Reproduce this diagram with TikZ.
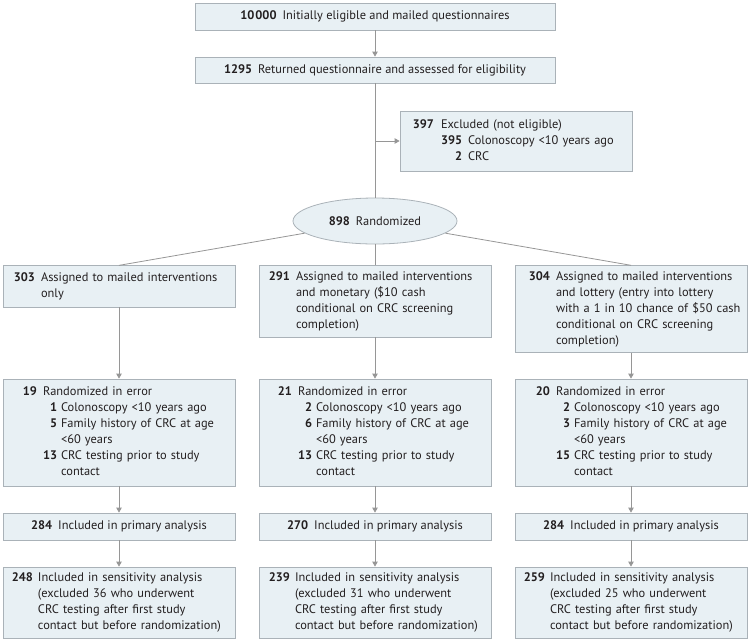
\documentclass[tikz,border=0pt]{standalone}
\usepackage{fontspec}
\setmainfont{PT Sans}
\usetikzlibrary{arrows.meta,shapes.geometric}
\definecolor{boxfill}{RGB}{232,240,244}
\definecolor{boxdraw}{RGB}{170,178,184}
\definecolor{linec}{RGB}{150,150,150}
\definecolor{txt}{RGB}{35,31,32}
\newcommand{\nb}[1]{\textbf{#1}}
\newcommand{\nc}[2]{\makebox[#1][r]{\textbf{#2}}}
\tikzset{
  box/.style={draw=boxdraw, fill=boxfill, line width=0.8pt, rectangle, inner sep=0pt,
    text=txt, font=\fontsize{12.4}{16}\selectfont},
  wbox/.style={box, minimum width=232pt, text width=232pt, align=left},
  cbox/.style={box, align=center},
  conn/.style={draw=linec, line width=0.8pt},
  arr/.style={conn, -{Triangle[length=5pt,width=5.5pt]}},
}
\begin{document}
\begin{tikzpicture}[x=1pt,y=-1pt]
\useasboundingbox (0,0) rectangle (750,641);
% top
\node[cbox, minimum width=360pt, minimum height=27pt] (b1) at (375,16.5)
  {\nb{10\kern1pt000}\hspace{6pt}Initially eligible and mailed questionnaires};
\node[cbox, minimum width=360pt, minimum height=26pt] (b2) at (375,70)
  {\nb{1295}\hspace{6pt}Returned questionnaire and assessed for eligibility};
\node[wbox, minimum height=60pt] (excl) at (516,141)
  {\begin{tabular}{@{}r@{\hspace{7pt}}r@{\hspace{6pt}}l@{}}
   \nc{34pt}{397} & \multicolumn{2}{@{}l@{}}{Excluded (not eligible)}\\
   & \nb{395} & Colonoscopy <10 years ago\\
   & \nb{2} & CRC
   \end{tabular}};
\node[ellipse, draw=boxdraw, fill=boxfill, line width=0.8pt, inner sep=0pt,
  minimum width=164pt, minimum height=46pt, text=txt, font=\fontsize{12.4}{16}\selectfont]
  (rand) at (375,221) {\nb{898}\hspace{6pt}Randomized};
% arms
\node[wbox, minimum height=41.3pt] (a1) at (119,286.4)
  {\begin{tabular}{@{}r@{\hspace{6pt}}l@{}}
   \nc{32pt}{303} & Assigned to mailed interventions\\
   & only
   \end{tabular}};
\node[wbox, minimum height=71.3pt] (a2) at (375,301.4)
  {\begin{tabular}{@{}r@{\hspace{6pt}}l@{}}
   \nc{31pt}{291} & Assigned to mailed interventions\\
   & and monetary (\$10 cash\\
   & conditional on CRC screening\\
   & completion)
   \end{tabular}};
\node[wbox, minimum height=87pt] (a3) at (631,309.2)
  {\begin{tabular}{@{}r@{\hspace{6pt}}l@{}}
   \nc{35pt}{304} & Assigned to mailed interventions\\
   & and lottery (entry into lottery\\
   & with a 1 in 10 chance of \$50 cash\\
   & conditional on CRC screening\\
   & completion)
   \end{tabular}};
% errors
\node[wbox, minimum height=107pt] (e1) at (119,432.5)
  {\begin{tabular}{@{}r@{\hspace{6pt}}r@{\hspace{4pt}}l@{}}
   \nc{34pt}{19} & \multicolumn{2}{@{}l@{}}{Randomized in error}\\
   & \nb{1} & Colonoscopy <10 years ago\\
   & \nb{5} & Family history of CRC at age\\
   & & <60 years\\
   & \nb{13} & CRC testing prior to study\\
   & & contact
   \end{tabular}};
\node[wbox, minimum height=107pt] (e2) at (375,432.5)
  {\begin{tabular}{@{}r@{\hspace{6pt}}r@{\hspace{4pt}}l@{}}
   \nc{33pt}{21} & \multicolumn{2}{@{}l@{}}{Randomized in error}\\
   & \nb{2} & Colonoscopy <10 years ago\\
   & \nb{6} & Family history of CRC at age\\
   & & <60 years\\
   & \nb{13} & CRC testing prior to study\\
   & & contact
   \end{tabular}};
\node[wbox, minimum height=107pt] (e3) at (631,432.5)
  {\begin{tabular}{@{}r@{\hspace{6pt}}r@{\hspace{4pt}}l@{}}
   \nc{35pt}{20} & \multicolumn{2}{@{}l@{}}{Randomized in error}\\
   & \nb{2} & Colonoscopy <10 years ago\\
   & \nb{3} & Family history of CRC at age\\
   & & <60 years\\
   & \nb{15} & CRC testing prior to study\\
   & & contact
   \end{tabular}};
% primary
\node[cbox, minimum width=232pt, minimum height=27pt] (p1) at (119,526.5)
  {\nb{284}\hspace{6pt}Included in primary analysis};
\node[cbox, minimum width=232pt, minimum height=27pt] (p2) at (375,526.5)
  {\nb{270}\hspace{6pt}Included in primary analysis};
\node[cbox, minimum width=232pt, minimum height=27pt] (p3) at (631,526.5)
  {\nb{284}\hspace{6pt}Included in primary analysis};
% sensitivity
\node[wbox, minimum height=71pt] (s1) at (119,602.5)
  {\begin{tabular}{@{}r@{\hspace{5pt}}l@{}}
   \nc{30pt}{248} & Included in sensitivity analysis\\
   & (excluded 36 who underwent\\
   & CRC testing after first study\\
   & contact but before randomization)
   \end{tabular}};
\node[wbox, minimum height=71pt] (s2) at (375,602.5)
  {\begin{tabular}{@{}r@{\hspace{5pt}}l@{}}
   \nc{31pt}{239} & Included in sensitivity analysis\\
   & (excluded 31 who underwent\\
   & CRC testing after first study\\
   & contact but before randomization)
   \end{tabular}};
\node[wbox, minimum height=71pt] (s3) at (631,602.5)
  {\begin{tabular}{@{}r@{\hspace{5pt}}l@{}}
   \nc{30pt}{259} & Included in sensitivity analysis\\
   & (excluded 25 who underwent\\
   & CRC testing after first study\\
   & contact but before randomization)
   \end{tabular}};
% connectors
\draw[arr] (b1) -- (b2);
\draw[conn] (b2) -- (rand);
\coordinate (j) at (b2.south |- excl.west);
\draw[arr] (j) -- (excl.west);
\draw[conn] (rand) -- (a1.north);
\draw[conn] (rand) -- (a2.north);
\draw[conn] (rand) -- (a3.north);
\foreach \i in {1,2,3}{
  \draw[arr] (a\i) -- (e\i);
  \draw[arr] (e\i) -- (p\i);
  \draw[arr] (p\i) -- (s\i);
}
\end{tikzpicture}
\end{document}
